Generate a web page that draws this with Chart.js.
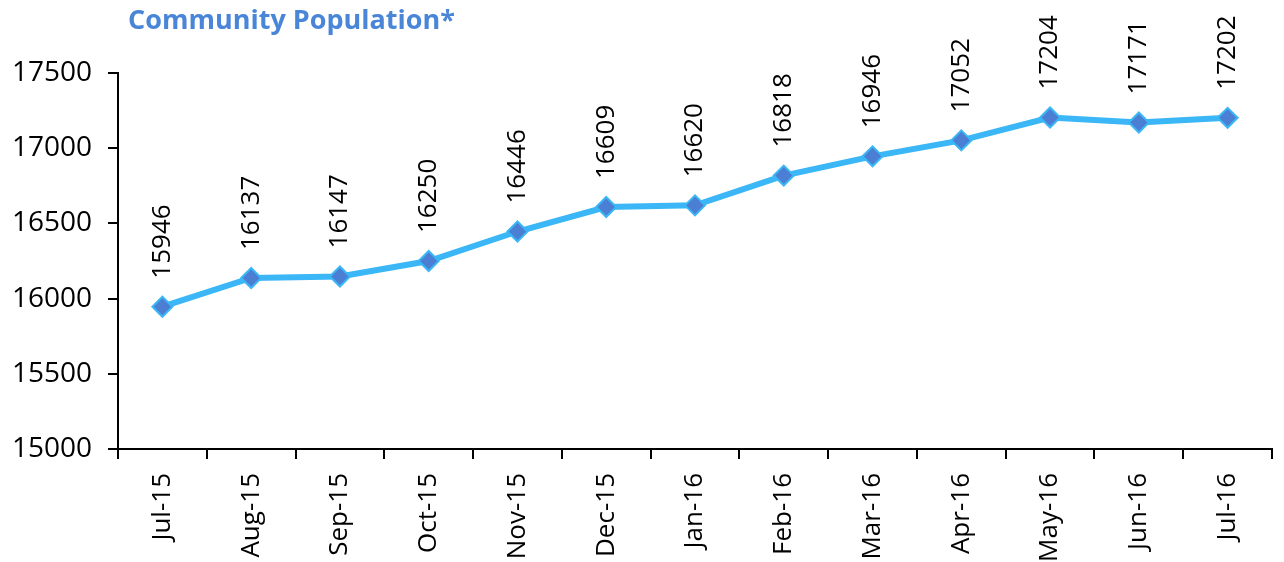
<!DOCTYPE html>
<html>
<head>
  <meta charset="UTF-8">
  <title>Community Population</title>
  <script src="https://cdn.jsdelivr.net/npm/chart.js@4.4.1/dist/chart.umd.min.js"></script>
  <style>
    html, body { margin: 0; padding: 0; background: #fff; }
    #wrap { width: 1284px; height: 562px; position: relative; }
  </style>
</head>
<body>
<div id="wrap"><canvas id="myChart" width="1284" height="562"></canvas></div>
<script>
  // chart data
  var months = ["Jul-15", "Aug-15", "Sep-15", "Oct-15", "Nov-15", "Dec-15", "Jan-16",
                "Feb-16", "Mar-16", "Apr-16", "May-16", "Jun-16", "Jul-16"];
  var population = [15946, 16137, 16147, 16250, 16446, 16609, 16620, 16818, 16946, 17052, 17204, 17171, 17202];
  var titleText = "Community Population*";

  var fontFamily = "'Open Sans', 'Noto Sans', sans-serif";

  // draws the rotated value labels above each point, plus the title
  var labelPlugin = {
    id: "valueLabels",
    afterDatasetsDraw: function(chart) {
      var ctx = chart.ctx;
      var meta = chart.getDatasetMeta(0);
      ctx.save();
      ctx.fillStyle = "#000";
      ctx.font = "26px " + fontFamily;
      ctx.textAlign = "left";
      ctx.textBaseline = "middle";
      meta.data.forEach(function(pt, i) {
        ctx.save();
        ctx.translate(pt.x, pt.y - 28);
        ctx.rotate(-Math.PI / 2);
        ctx.fillText(String(population[i]), 0, 0);
        ctx.restore();
      });
      ctx.fillStyle = "#4a86d8";
      ctx.font = "bold 27px " + fontFamily;
      ctx.textBaseline = "middle";
      ctx.fillText(titleText, 128, 21);
      ctx.restore();
    }
  };

  new Chart(document.getElementById("myChart"), {
    type: "line",
    data: {
      labels: months,
      datasets: [{
        data: population,
        borderColor: "#3bb6f6",
        borderWidth: 6,
        pointStyle: "rectRot",
        pointRadius: 10,
        pointHoverRadius: 10,
        pointBackgroundColor: "#4a7fd3",
        pointBorderColor: "#3bb6f6",
        pointBorderWidth: 2,
        tension: 0,
        fill: false
      }]
    },
    options: {
      responsive: false,
      animation: false,
      layout: { padding: { top: 73, right: 9, left: 0, bottom: 0 } },
      plugins: {
        legend: { display: false },
        title: { display: false },
        tooltip: { enabled: false }
      },
      scales: {
        x: {
          offset: true,
          grid: { display: true, drawOnChartArea: false, drawTicks: true, tickLength: 10, color: "#000", lineWidth: 2, offset: true },
          border: { display: true, color: "#000", width: 2 },
          ticks: { color: "#000", font: { size: 26, family: fontFamily }, minRotation: 90, maxRotation: 90, padding: 14 },
          afterFit: function(scale) { scale.height = 113; }
        },
        y: {
          min: 15000,
          max: 17500,
          grid: { display: true, drawOnChartArea: false, drawTicks: true, tickLength: 10, color: "#000", lineWidth: 2 },
          border: { display: true, color: "#000", width: 2 },
          ticks: {
            stepSize: 500, color: "#000", font: { size: 28, family: fontFamily }, padding: 16,
            callback: function(v) { return String(v); }
          },
          afterFit: function(scale) { scale.width = 118; }
        }
      }
    },
    plugins: [labelPlugin]
  });
</script>
</body>
</html>
